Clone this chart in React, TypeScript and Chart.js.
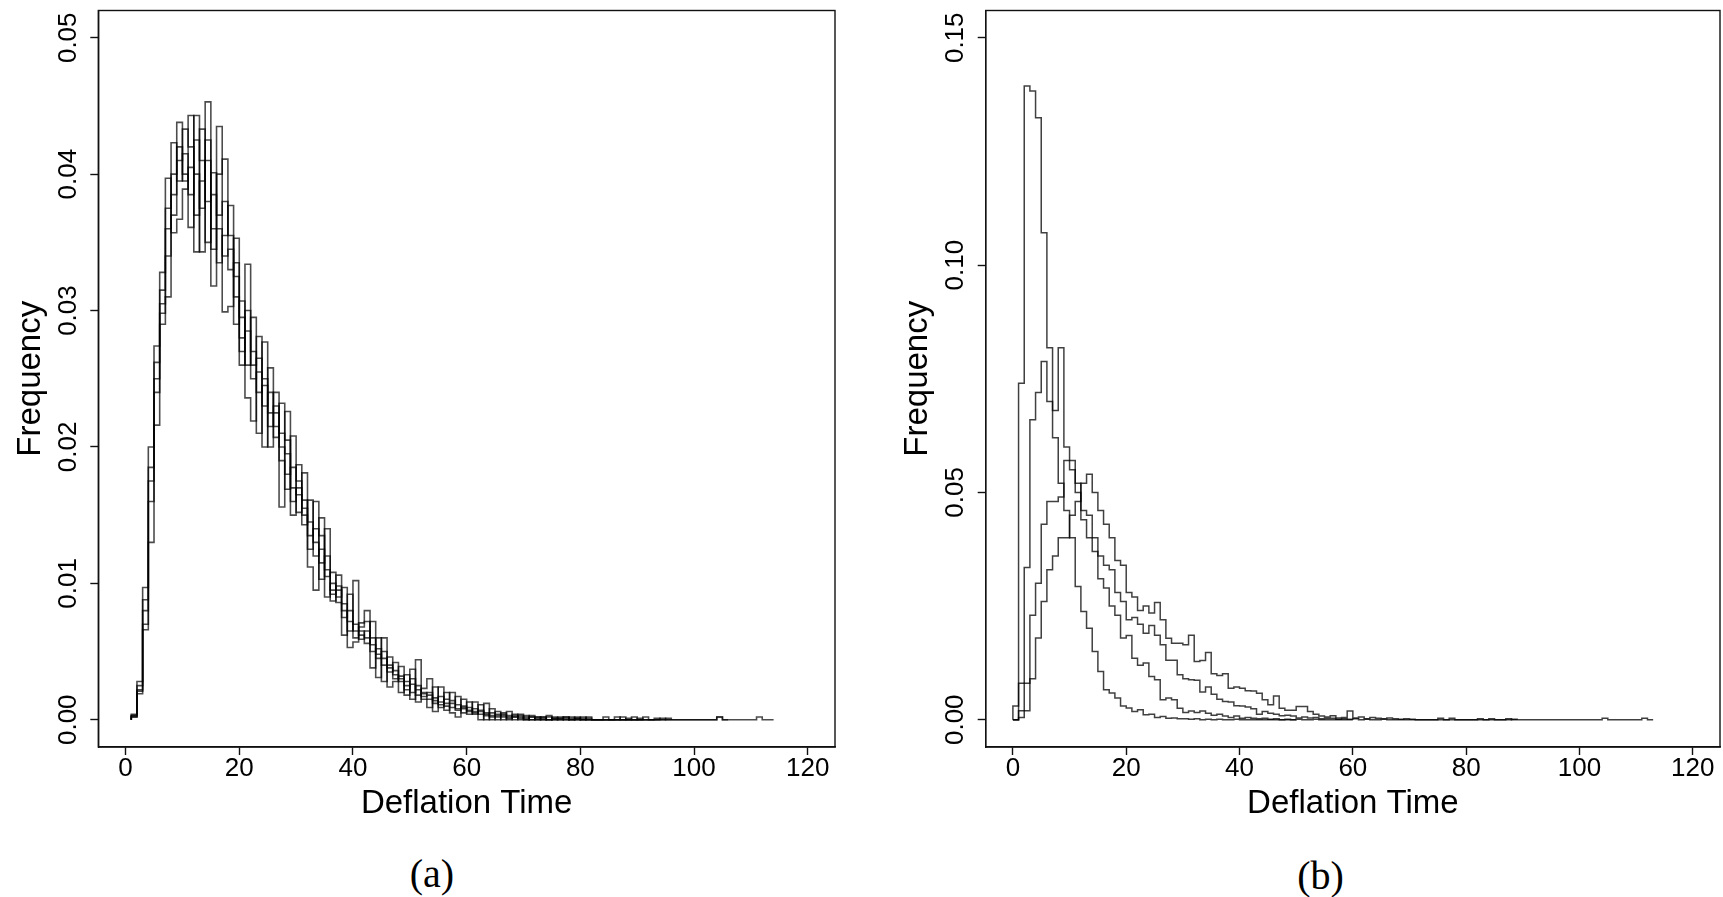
import React, { useEffect, useRef } from "react";
import { Chart, registerables } from "chart.js";

Chart.register(...registerables);

// ---------- Panel (a): five runs, bins of width 1 starting at x = 1 ----------
const leftBinStart = 1;
const leftRunA = [
  0.0003, 0.0022, 0.0080, 0.0175, 0.0240, 0.0305, 0.0360, 0.0385, 0.0438, 0.0400,
  0.0361, 0.0443, 0.0375, 0.0453, 0.0318, 0.0400, 0.0411, 0.0330, 0.0353, 0.0280,
  0.0334, 0.0250, 0.0281, 0.0230, 0.0258, 0.0207, 0.0232, 0.0180, 0.0208, 0.0175,
  0.0143, 0.0161, 0.0120, 0.0148, 0.0105, 0.0108, 0.0090, 0.0097, 0.0065, 0.0102,
  0.0065, 0.0056, 0.0072, 0.0045, 0.0060, 0.0035, 0.0042, 0.0028, 0.0033, 0.0020,
  0.0044, 0.0020, 0.0015, 0.0024, 0.0009, 0.0015, 0.0020, 0.0008, 0.0015, 0.0006,
  0.0013, 0.0004, 0.0012, 0.0002, 0.0006, 0.0003, 0.0000, 0.0004, 0.0002, 0.0001,
  0.0003, 0.0000, 0.0002, 0.0000, 0.0001, 0.0002, 0.0000, 0.0001, 0.0000, 0.0002,
  0, 0, 0, 0, 0, 0.0002, 0, 0.0001, 0, 0,
  0, 0, 0, 0, 0.0001,
];
const leftRunB = [
  0.0002, 0.0028, 0.0070, 0.0130, 0.0274, 0.0290, 0.0310, 0.0423, 0.0395, 0.0433,
  0.0420, 0.0343, 0.0433, 0.0380, 0.0401, 0.0335, 0.0355, 0.0377, 0.0290, 0.0307,
  0.0260, 0.0295, 0.0240, 0.0277, 0.0215, 0.0240, 0.0156, 0.0226, 0.0170, 0.0152,
  0.0181, 0.0135, 0.0160, 0.0115, 0.0140, 0.0095, 0.0106, 0.0075, 0.0092, 0.0060,
  0.0071, 0.0080, 0.0050, 0.0060, 0.0040, 0.0046, 0.0030, 0.0039, 0.0022, 0.0037,
  0.0018, 0.0023, 0.0030, 0.0012, 0.0024, 0.0007, 0.0012, 0.0017, 0.0005, 0.0013,
  0.0004, 0.0011, 0.0003, 0.0008, 0.0002, 0.0005, 0.0003, 0.0000, 0.0003, 0.0000,
  0.0002, 0.0002, 0.0000, 0.0003, 0.0000, 0.0001, 0.0002, 0.0000, 0.0001, 0.0000,
  0.0002, 0, 0, 0, 0, 0, 0, 0, 0.0002, 0,
  0.0002, 0, 0.0001,
];
const leftRunC = [
  0.0004, 0.0019, 0.0097, 0.0160, 0.0216, 0.0328, 0.0397, 0.0357, 0.0367, 0.0389,
  0.0443, 0.0400, 0.0343, 0.0410, 0.0360, 0.0435, 0.0299, 0.0303, 0.0335, 0.0260,
  0.0285, 0.0270, 0.0210, 0.0245, 0.0200, 0.0225, 0.0200, 0.0195, 0.0150, 0.0187,
  0.0155, 0.0112, 0.0095, 0.0125, 0.0090, 0.0100, 0.0086, 0.0062, 0.0080, 0.0070,
  0.0059, 0.0065, 0.0038, 0.0052, 0.0028, 0.0040, 0.0036, 0.0020, 0.0028, 0.0015,
  0.0025, 0.0015, 0.0009, 0.0016, 0.0013, 0.0020, 0.0005, 0.0002, 0.0010, 0.0004,
  0.0008, 0.0000, 0.0005, 0.0003, 0.0000, 0.0002, 0.0006, 0.0002, 0.0000, 0.0003,
  0.0000, 0.0002, 0.0001, 0.0000, 0.0002, 0.0000, 0.0001, 0.0000, 0.0002, 0.0000,
  0, 0, 0, 0, 0, 0, 0.0002, 0, 0, 0,
  0, 0, 0, 0.0001, 0, 0, 0, 0, 0, 0,
  0, 0, 0, 0.0002, 0,
];
const leftRunD = [
  0.0003, 0.0025, 0.0066, 0.0200, 0.0250, 0.0298, 0.0375, 0.0400, 0.0410, 0.0415,
  0.0385, 0.0425, 0.0410, 0.0350, 0.0385, 0.0370, 0.0380, 0.0355, 0.0310, 0.0295,
  0.0236, 0.0219, 0.0255, 0.0200, 0.0240, 0.0215, 0.0190, 0.0169, 0.0185, 0.0165,
  0.0161, 0.0145, 0.0130, 0.0103, 0.0120, 0.0087, 0.0098, 0.0085, 0.0053, 0.0057,
  0.0068, 0.0072, 0.0060, 0.0031, 0.0050, 0.0024, 0.0028, 0.0032, 0.0018, 0.0026,
  0.0013, 0.0019, 0.0020, 0.0006, 0.0017, 0.0010, 0.0009, 0.0011, 0.0008, 0.0009,
  0.0006, 0.0007, 0.0000, 0.0005, 0.0004, 0.0000, 0.0002, 0.0003, 0.0001, 0.0002,
  0.0000, 0.0001, 0.0000, 0.0002, 0.0000, 0.0001, 0.0000, 0.0002, 0.0000, 0.0001,
  0, 0, 0, 0.0002, 0, 0, 0, 0, 0, 0.0001,
];
const leftRunE = [
  0.0002, 0.0021, 0.0088, 0.0185, 0.0262, 0.0315, 0.0340, 0.0370, 0.0420, 0.0395,
  0.0405, 0.0370, 0.0395, 0.0425, 0.0345, 0.0360, 0.0340, 0.0345, 0.0325, 0.0270,
  0.0300, 0.0260, 0.0265, 0.0250, 0.0225, 0.0230, 0.0210, 0.0205, 0.0160, 0.0170,
  0.0150, 0.0125, 0.0140, 0.0135, 0.0110, 0.0092, 0.0095, 0.0080, 0.0072, 0.0065,
  0.0062, 0.0060, 0.0055, 0.0048, 0.0045, 0.0038, 0.0033, 0.0030, 0.0025, 0.0030,
  0.0022, 0.0017, 0.0018, 0.0014, 0.0011, 0.0012, 0.0014, 0.0007, 0.0009, 0.0007,
  0.0005, 0.0006, 0.0004, 0.0000, 0.0003, 0.0004, 0.0001, 0.0002, 0.0004, 0.0000,
  0.0002, 0.0000, 0.0002, 0.0000, 0.0001, 0.0000, 0.0002, 0.0000, 0.0001, 0.0000,
  0.0001, 0, 0, 0, 0, 0, 0, 0, 0, 0,
  0, 0, 0, 0, 0, 0, 0, 0, 0, 0,
  0, 0, 0, 0.0002, 0, 0, 0, 0, 0, 0,
  0.0002, 0, 0,
];

// ---------- Panel (b): four runs, bins of width 1 starting at x = 0 ----------
const rightBinStart = 0;
const rightRunSharp = [
  0.0030, 0.0740, 0.1394, 0.1383, 0.1324, 0.1071, 0.0818, 0.0620, 0.0520, 0.0460,
  0.0400, 0.0293, 0.0238, 0.0201, 0.0150, 0.0106, 0.0066, 0.0059, 0.0048, 0.0030,
  0.0026, 0.0018, 0.0022, 0.0011, 0.0012, 0.0005, 0.0007, 0.0003, 0.0004, 0.0002,
  0.0002, 0.0001, 0.0002, 0.0000, 0.0001, 0.0000, 0.0001, 0.0000, 0.0000, 0.0001,
  0, 0, 0, 0, 0, 0, 0, 0, 0, 0,
];
const rightRunMid = [
  0.0000, 0.0080, 0.0335, 0.0660, 0.0720, 0.0788, 0.0700, 0.0680, 0.0818, 0.0600,
  0.0570, 0.0520, 0.0440, 0.0400, 0.0370, 0.0310, 0.0290, 0.0250, 0.0230, 0.0180,
  0.0185, 0.0135, 0.0120, 0.0125, 0.0095, 0.0088, 0.0044, 0.0048, 0.0044, 0.0025,
  0.0016, 0.0019, 0.0016, 0.0019, 0.0014, 0.0010, 0.0012, 0.0008, 0.0005, 0.0008,
  0.0003, 0.0005, 0.0003, 0.0002, 0.0003, 0.0001, 0.0002, 0.0000, 0.0001, 0.0000,
  0.0001, 0, 0, 0.0001, 0, 0, 0, 0, 0, 0,
];
const rightRunBroad = [
  0.0000, 0.0020, 0.0080, 0.0230, 0.0300, 0.0430, 0.0480, 0.0480, 0.0490, 0.0570,
  0.0550, 0.0500, 0.0460, 0.0450, 0.0400, 0.0360, 0.0340, 0.0330, 0.0280, 0.0260,
  0.0220, 0.0225, 0.0210, 0.0190, 0.0207, 0.0186, 0.0165, 0.0131, 0.0131, 0.0099,
  0.0090, 0.0088, 0.0087, 0.0061, 0.0072, 0.0056, 0.0045, 0.0040, 0.0039, 0.0031,
  0.0030, 0.0028, 0.0024, 0.0012, 0.0018, 0.0014, 0.0012, 0.0009, 0.0010, 0.0008,
  0.0004, 0.0006, 0.0004, 0.0005, 0.0002, 0.0003, 0.0003, 0.0001, 0.0002, 0.0001,
  0.0002, 0, 0.0001, 0, 0, 0.0001, 0, 0, 0, 0,
  0, 0, 0, 0, 0, 0, 0, 0, 0, 0,
  0, 0, 0, 0, 0, 0, 0, 0, 0.0001,
];
const rightRunWidest = [
  0.0000, 0.0005, 0.0020, 0.0090, 0.0180, 0.0260, 0.0330, 0.0360, 0.0400, 0.0400,
  0.0450, 0.0480, 0.0520, 0.0540, 0.0500, 0.0460, 0.0430, 0.0400, 0.0350, 0.0340,
  0.0280, 0.0270, 0.0240, 0.0250, 0.0235, 0.0258, 0.0220, 0.0179, 0.0168, 0.0168,
  0.0165, 0.0186, 0.0128, 0.0130, 0.0148, 0.0101, 0.0097, 0.0101, 0.0069, 0.0072,
  0.0069, 0.0064, 0.0063, 0.0058, 0.0044, 0.0033, 0.0052, 0.0025, 0.0021, 0.0021,
  0.0029, 0.0029, 0.0018, 0.0012, 0.0008, 0.0006, 0.0009, 0.0004, 0.0005, 0.0019,
  0.0004, 0.0006, 0.0002, 0.0005, 0.0003, 0.0002, 0.0004, 0.0002, 0.0001, 0.0002,
  0.0001, 0, 0, 0, 0, 0.0003, 0, 0.0003, 0, 0,
  0, 0, 0.0002, 0, 0.0002, 0, 0, 0.0002, 0, 0,
  0, 0, 0, 0, 0, 0, 0, 0, 0, 0,
  0, 0, 0, 0, 0.0003, 0, 0, 0, 0, 0,
  0, 0.0003, 0,
];

const xTicksStep = 20;
const leftYTicksStep = 0.01;
const rightYTicksStep = 0.05;
const xTitle = "Deflation Time";
const yTitle = "Frequency";

const SANS = "'Liberation Sans', Arial, Helvetica, sans-serif";

function histPoints(start: number, vals: number[]) {
  const pts: { x: number; y: number }[] = [{ x: start, y: 0 }];
  vals.forEach((v, i) => pts.push({ x: start + i, y: v }));
  pts.push({ x: start + vals.length, y: 0 });
  return pts;
}

const boxPlugin = {
  id: "plotBox",
  afterDraw(chart: any) {
    const { ctx, chartArea: a } = chart;
    ctx.save();
    ctx.strokeStyle = "#111";
    ctx.lineWidth = 1.4;
    ctx.strokeRect(a.left, a.top, a.right - a.left, a.bottom - a.top);
    ctx.restore();
  },
};

function buildConfig(opts: {
  runs: { start: number; vals: number[] }[];
  yMin: number;
  yMax: number;
  yStep: number;
  padLeft: number;
  padRight: number;
  color: string;
  width: number;
}): any {
  return {
    type: "line",
    data: {
      datasets: opts.runs.map((r) => ({
        data: histPoints(r.start, r.vals),
        borderColor: opts.color,
        borderWidth: opts.width,
        pointRadius: 0,
        stepped: true,
        fill: false,
        borderJoinStyle: "miter",
      })),
    },
    options: {
      animation: false,
      responsive: false,
      maintainAspectRatio: false,
      events: [],
      layout: { padding: { left: opts.padLeft, right: opts.padRight, top: 10.5, bottom: 3 } },
      plugins: { legend: { display: false }, tooltip: { enabled: false }, title: { display: false } },
      scales: {
        x: {
          type: "linear",
          min: -4.8,
          max: 124.8,
          afterFit: (s: any) => {
            s.height = 80;
          },
          ticks: {
            stepSize: xTicksStep,
            includeBounds: false,
            autoSkip: false,
            maxRotation: 0,
            minRotation: 0,
            padding: 1,
            color: "#000",
            font: { family: SANS, size: 26, lineHeight: 1 },
            callback: (v: number) => String(Math.round(v)),
          },
          grid: { drawOnChartArea: false, drawTicks: true, tickLength: 8, color: "#111", tickWidth: 1.4 },
          border: { display: true, color: "#111", width: 1.4 },
          title: {
            display: true,
            text: xTitle,
            color: "#000",
            font: { family: SANS, size: 33, lineHeight: 1 },
            padding: { top: 0, bottom: 7 },
          },
        },
        y: {
          type: "linear",
          min: opts.yMin,
          max: opts.yMax,
          afterFit: (s: any) => {
            s.width = 98.3;
          },
          ticks: {
            stepSize: opts.yStep,
            includeBounds: false,
            autoSkip: false,
            minRotation: 90,
            maxRotation: 90,
            crossAlign: "center",
            padding: -3.8,
            color: "#000",
            font: { family: SANS, size: 26, lineHeight: 1 },
            callback: (v: number) => v.toFixed(2),
          },
          grid: { drawOnChartArea: false, drawTicks: true, tickLength: 8, color: "#111", tickWidth: 1.4 },
          border: { display: true, color: "#111", width: 1.4 },
          title: {
            display: true,
            text: yTitle,
            color: "#000",
            font: { family: SANS, size: 33, lineHeight: 1 },
            padding: { top: 14.5, bottom: 0 },
          },
        },
      },
    },
    plugins: [boxPlugin],
  };
}

const captionStyle = (x: number, y: number): React.CSSProperties => ({
  position: "absolute",
  left: x,
  top: y,
  transform: "translate(-50%, -50%)",
  fontFamily: "'Liberation Serif', 'Times New Roman', serif",
  fontSize: 40,
  lineHeight: 1,
  color: "#000",
  whiteSpace: "nowrap",
});

export default function App() {
  const leftRef = useRef<HTMLCanvasElement>(null);
  const rightRef = useRef<HTMLCanvasElement>(null);

  useEffect(() => {
    const left = new Chart(
      leftRef.current as HTMLCanvasElement,
      buildConfig({
        runs: [leftRunA, leftRunB, leftRunC, leftRunD, leftRunE].map((vals) => ({ start: leftBinStart, vals })),
        yMin: -0.002,
        yMax: 0.052,
        yStep: leftYTicksStep,
        padLeft: 0,
        padRight: 25,
        color: "rgba(0,0,0,0.7)",
        width: 1.6,
      })
    );
    const right = new Chart(
      rightRef.current as HTMLCanvasElement,
      buildConfig({
        runs: [rightRunSharp, rightRunMid, rightRunBroad, rightRunWidest].map((vals) => ({ start: rightBinStart, vals })),
        yMin: -0.006,
        yMax: 0.156,
        yStep: rightYTicksStep,
        padLeft: 27.4,
        padRight: 3,
        color: "rgba(0,0,0,0.75)",
        width: 1.5,
      })
    );
    return () => {
      left.destroy();
      right.destroy();
    };
  }, []);

  return (
    <div
      style={{
        position: "fixed",
        left: 0,
        top: 0,
        width: 1723,
        height: 897,
        background: "#fff",
        overflow: "hidden",
      }}
    >
      <canvas
        ref={leftRef}
        width={860}
        height={830}
        style={{ position: "absolute", left: 0, top: 0, width: 860, height: 830 }}
      />
      <canvas
        ref={rightRef}
        width={863}
        height={830}
        style={{ position: "absolute", left: 860, top: 0, width: 863, height: 830 }}
      />
      <div style={captionStyle(432, 874)}>(a)</div>
      <div style={captionStyle(1320.5, 876)}>(b)</div>
    </div>
  );
}
